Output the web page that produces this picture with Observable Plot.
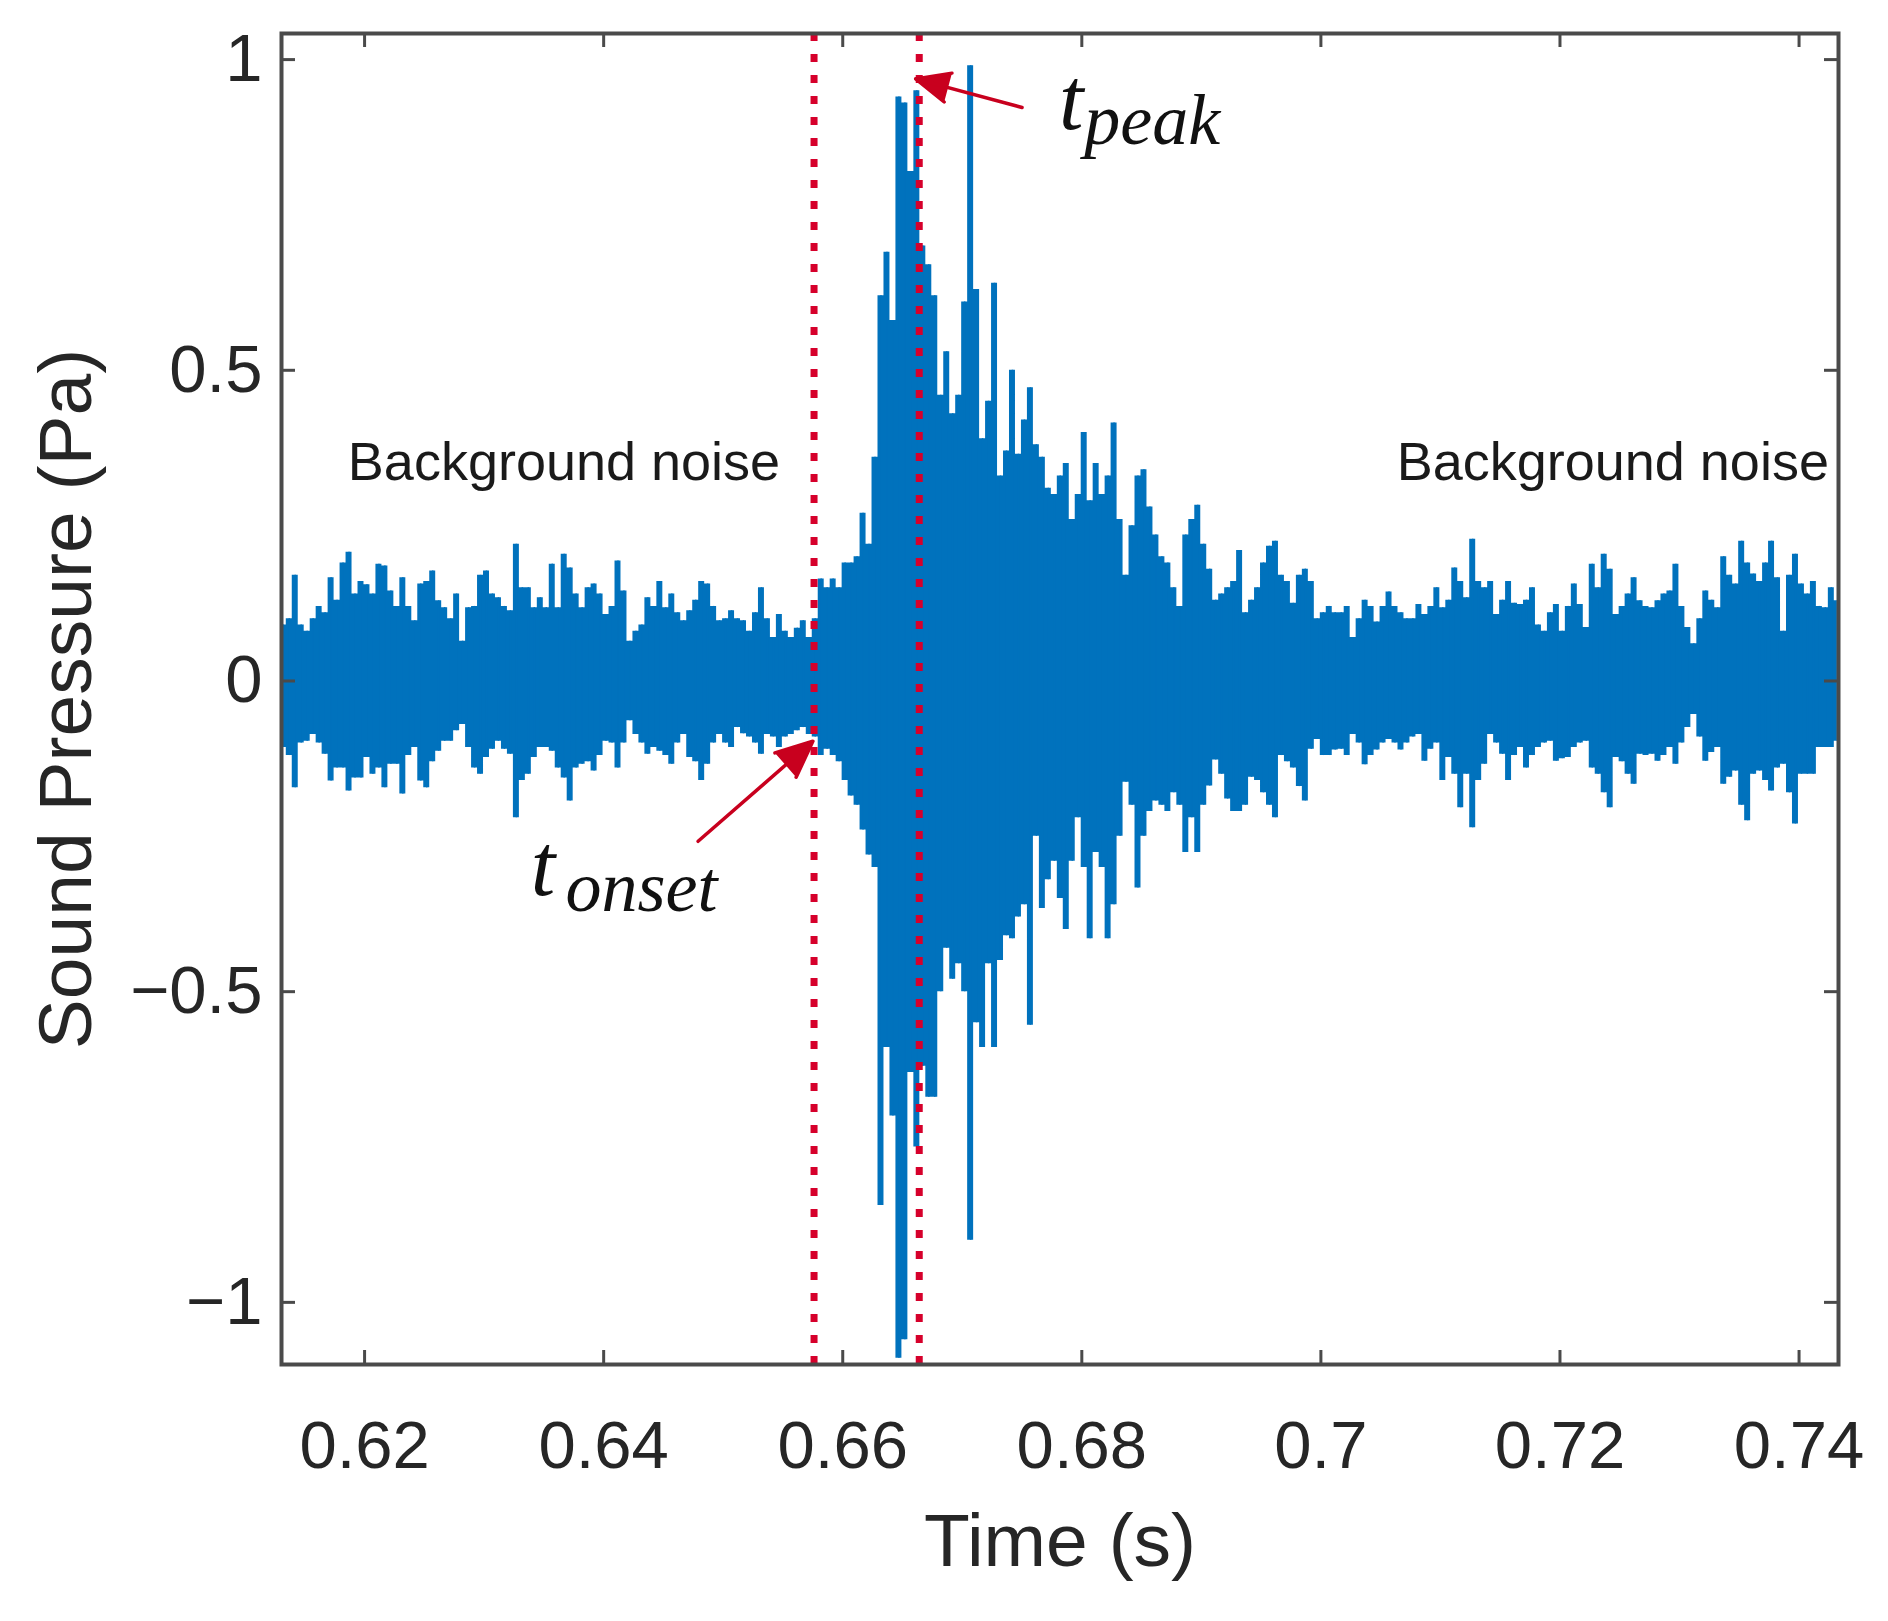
<!DOCTYPE html>
<html>
<head>
<meta charset="utf-8">
<script src="https://cdn.jsdelivr.net/npm/d3@7"></script>
<script src="https://cdn.jsdelivr.net/npm/@observablehq/plot@0.6"></script>
<style>
  html, body { margin: 0; padding: 0; background: #ffffff; }
  svg { display: block; }
</style>
</head>
<body>
<div id="chart"></div>
<script>
// ---- Sample times (ms) of the read-off envelope ----
const timeMs = [
  613.2,613.7,614.2,614.7,615.2,615.7,616.2,616.7,617.2,617.7,
  618.2,618.7,619.2,619.7,620.2,620.7,621.2,621.7,622.2,622.7,
  623.2,623.7,624.2,624.7,625.2,625.7,626.2,626.7,627.2,627.7,
  628.2,628.7,629.2,629.7,630.2,630.7,631.2,631.7,632.2,632.7,
  633.2,633.7,634.2,634.7,635.2,635.7,636.2,636.7,637.2,637.7,
  638.2,638.7,639.2,639.7,640.2,640.7,641.2,641.7,642.2,642.7,
  643.2,643.7,644.2,644.7,645.2,645.7,646.2,646.7,647.2,647.7,
  648.2,648.7,649.2,649.7,650.2,650.7,651.2,651.7,652.2,652.7,
  653.2,653.7,654.2,654.7,655.2,655.7,656.2,656.7,657.2,657.7,
  658.2,658.7,659.2,659.7,660.2,660.7,661.2,661.7,662.2,662.7,
  663.2,663.7,664.2,664.7,665.2,665.7,666.2,666.7,667.2,667.7,
  668.2,668.7,669.2,669.7,670.2,670.7,671.2,671.7,672.2,672.7,
  673.2,673.7,674.2,674.7,675.2,675.7,676.2,676.7,677.2,677.7,
  678.2,678.7,679.2,679.7,680.2,680.7,681.2,681.7,682.2,682.7,
  683.2,683.7,684.2,684.7,685.2,685.7,686.2,686.7,687.2,687.7,
  688.2,688.7,689.2,689.7,690.2,690.7,691.2,691.7,692.2,692.7,
  693.2,693.7,694.2,694.7,695.2,695.7,696.2,696.7,697.2,697.7,
  698.2,698.7,699.2,699.7,700.2,700.7,701.2,701.7,702.2,702.7,
  703.2,703.7,704.2,704.7,705.2,705.7,706.2,706.7,707.2,707.7,
  708.2,708.7,709.2,709.7,710.2,710.7,711.2,711.7,712.2,712.7,
  713.2,713.7,714.2,714.7,715.2,715.7,716.2,716.7,717.2,717.7,
  718.2,718.7,719.2,719.7,720.2,720.7,721.2,721.7,722.2,722.7,
  723.2,723.7,724.2,724.7,725.2,725.7,726.2,726.7,727.2,727.7,
  728.2,728.7,729.2,729.7,730.2,730.7,731.2,731.7,732.2,732.7,
  733.2,733.7,734.2,734.7,735.2,735.7,736.2,736.7,737.2,737.7,
  738.2,738.7,739.2,739.7,740.2,740.7,741.2,741.7,742.2,742.7,
  743.2
];

// ---- Upper envelope of the sound pressure (Pa) ----
const upper = [
  0.09,0.10,0.17,0.09,0.08,0.10,0.12,0.11,0.166,0.13,
  0.19,0.207,0.14,0.16,0.155,0.14,0.188,0.185,0.145,0.12,
  0.166,0.12,0.097,0.156,0.16,0.177,0.129,0.118,0.10,0.14,
  0.064,0.118,0.12,0.17,0.177,0.14,0.134,0.12,0.113,0.22,
  0.15,0.15,0.118,0.134,0.118,0.188,0.118,0.204,0.182,0.14,
  0.118,0.15,0.156,0.14,0.107,0.12,0.193,0.145,0.064,0.08,
  0.09,0.134,0.12,0.16,0.118,0.14,0.11,0.097,0.113,0.13,
  0.16,0.156,0.12,0.097,0.10,0.113,0.10,0.097,0.08,0.11,
  0.15,0.10,0.07,0.107,0.08,0.07,0.085,0.097,0.07,0.10,
  0.164,0.15,0.164,0.15,0.19,0.19,0.20,0.27,0.22,0.36,
  0.62,0.69,0.58,0.94,0.93,0.82,0.95,0.70,0.67,0.62,
  0.46,0.53,0.43,0.46,0.61,0.99,0.63,0.39,0.45,0.64,
  0.33,0.37,0.50,0.365,0.42,0.472,0.38,0.36,0.31,0.30,
  0.33,0.35,0.26,0.30,0.40,0.29,0.35,0.30,0.33,0.415,
  0.26,0.17,0.25,0.33,0.34,0.28,0.235,0.20,0.19,0.15,
  0.12,0.235,0.26,0.283,0.22,0.18,0.13,0.14,0.15,0.16,
  0.21,0.11,0.13,0.15,0.19,0.217,0.225,0.17,0.16,0.125,
  0.17,0.18,0.16,0.10,0.11,0.12,0.11,0.11,0.12,0.07,
  0.10,0.13,0.12,0.095,0.12,0.143,0.12,0.11,0.10,0.10,
  0.123,0.107,0.12,0.15,0.118,0.13,0.182,0.16,0.134,0.228,
  0.16,0.15,0.16,0.107,0.13,0.16,0.125,0.123,0.13,0.15,
  0.09,0.08,0.11,0.123,0.08,0.12,0.156,0.123,0.086,0.188,
  0.15,0.204,0.18,0.107,0.12,0.14,0.166,0.129,0.12,0.118,
  0.129,0.14,0.145,0.188,0.12,0.086,0.06,0.10,0.145,0.13,
  0.118,0.20,0.17,0.156,0.225,0.19,0.172,0.16,0.19,0.225,
  0.166,0.08,0.17,0.204,0.156,0.14,0.16,0.12,0.118,0.15,
  0.129
];

// ---- Lower envelope of the sound pressure (Pa) ----
const lower = [
  -0.107,-0.12,-0.172,-0.10,-0.097,-0.086,-0.10,-0.118,-0.161,-0.14,
  -0.14,-0.177,-0.156,-0.156,-0.123,-0.15,-0.14,-0.172,-0.134,-0.134,
  -0.182,-0.12,-0.107,-0.161,-0.172,-0.13,-0.113,-0.097,-0.097,-0.08,
  -0.07,-0.107,-0.14,-0.15,-0.123,-0.11,-0.097,-0.11,-0.118,-0.22,
  -0.16,-0.15,-0.123,-0.107,-0.107,-0.113,-0.14,-0.156,-0.193,-0.14,
  -0.134,-0.13,-0.145,-0.12,-0.097,-0.10,-0.14,-0.10,-0.064,-0.086,
  -0.10,-0.118,-0.107,-0.113,-0.12,-0.134,-0.10,-0.086,-0.123,-0.13,
  -0.16,-0.134,-0.10,-0.086,-0.10,-0.107,-0.075,-0.085,-0.09,-0.10,
  -0.118,-0.086,-0.09,-0.107,-0.09,-0.086,-0.08,-0.075,-0.086,-0.09,
  -0.12,-0.11,-0.12,-0.13,-0.16,-0.185,-0.20,-0.24,-0.28,-0.30,
  -0.844,-0.59,-0.70,-1.09,-1.06,-0.63,-0.75,-0.62,-0.67,-0.67,
  -0.50,-0.43,-0.48,-0.455,-0.50,-0.90,-0.55,-0.59,-0.455,-0.59,
  -0.45,-0.41,-0.415,-0.38,-0.36,-0.554,-0.25,-0.366,-0.32,-0.29,
  -0.35,-0.40,-0.29,-0.22,-0.30,-0.415,-0.276,-0.30,-0.415,-0.36,
  -0.25,-0.163,-0.20,-0.333,-0.25,-0.21,-0.193,-0.20,-0.21,-0.18,
  -0.20,-0.276,-0.22,-0.276,-0.20,-0.169,-0.127,-0.15,-0.19,-0.21,
  -0.21,-0.20,-0.155,-0.16,-0.18,-0.20,-0.22,-0.12,-0.13,-0.14,
  -0.17,-0.193,-0.11,-0.094,-0.12,-0.12,-0.111,-0.11,-0.12,-0.086,
  -0.10,-0.135,-0.12,-0.111,-0.10,-0.094,-0.10,-0.111,-0.10,-0.09,
  -0.086,-0.129,-0.11,-0.10,-0.16,-0.123,-0.15,-0.204,-0.15,-0.236,
  -0.16,-0.134,-0.086,-0.10,-0.118,-0.16,-0.12,-0.107,-0.14,-0.12,
  -0.107,-0.10,-0.097,-0.129,-0.125,-0.123,-0.107,-0.10,-0.097,-0.14,
  -0.15,-0.18,-0.204,-0.123,-0.13,-0.15,-0.166,-0.118,-0.12,-0.118,
  -0.129,-0.12,-0.107,-0.134,-0.10,-0.075,-0.054,-0.09,-0.129,-0.115,
  -0.107,-0.166,-0.155,-0.145,-0.20,-0.225,-0.15,-0.145,-0.16,-0.177,
  -0.14,-0.134,-0.18,-0.23,-0.15,-0.15,-0.15,-0.107,-0.107,-0.107,
  -0.097
];

// ---- Axes ----
const xTicks = [0.62, 0.64, 0.66, 0.68, 0.70, 0.72, 0.74];
const xTickLabels = ["0.62", "0.64", "0.66", "0.68", "0.7", "0.72", "0.74"];
const yTicks = [-1, -0.5, 0, 0.5, 1];
const yTickLabels = ["\u22121", "\u22120.5", "0", "0.5", "1"];
const xLabel = "Time (s)";
const yLabel = "Sound Pressure (Pa)";

// ---- Event markers (s) ----
const markerTimes = [0.6576, 0.6664];

// ---- Annotations (data units) ----
const noiseNotes = [
  {label: "Background noise", time: 0.6186, pressure: 0.351, anchor: "start"},
  {label: "Background noise", time: 0.7425, pressure: 0.351, anchor: "end"}
];
const arrowNotes = [
  {t1: 0.6479, p1: -0.258, t2: 0.6575, p2: -0.097},
  {t1: 0.6750, p1: 0.923, t2: 0.6661, p2: 0.969}
];
const mathLabels = [
  {main: "t", sub: "peak", time: 0.6781, pressure: 0.933, subTime: 0.6802, subPressure: 0.902},
  {main: "t", sub: "onset", time: 0.6339, pressure: -0.299, subTime: 0.6368, subPressure: -0.333}
];

const samples = timeMs.map((ms, i) => ({time: ms / 1000, hi: upper[i], lo: lower[i]}));

const W = 1888, H = 1621;
const mL = 281, mR = 50, mT = 33, mB = 257;
const plotW = W - mL - mR, plotH = H - mT - mB;
const tickLen = 14;
const axisColor = "#4a4a4a";
const textColor = "#262626";
const blue = "#0072BD";
const red = "#c8001e";

const chart = Plot.plot({
  width: W,
  height: H,
  marginLeft: mL,
  marginRight: mR,
  marginTop: mT,
  marginBottom: mB,
  x: {domain: [0.61305, 0.7433]},
  y: {domain: [-1.1, 1.042]},
  style: {fontFamily: "'Liberation Sans', Arial, sans-serif", background: "#ffffff", color: textColor},
  marks: [
    Plot.areaY(samples, {x: "time", y1: "lo", y2: "hi", fill: blue, curve: "step", clip: true}),
    Plot.ruleX(samples, {x: "time", y1: "lo", y2: "hi", stroke: blue, strokeWidth: 1.5, clip: true}),
    Plot.ruleX(markerTimes, {stroke: "#d6002b", strokeWidth: 7, strokeDasharray: "8,13"}),
    // inward ticks on all four sides
    Plot.ruleX(xTicks, {insetTop: plotH - tickLen, stroke: axisColor, strokeWidth: 3}),
    Plot.ruleX(xTicks, {insetBottom: plotH - tickLen, stroke: axisColor, strokeWidth: 3}),
    Plot.ruleY(yTicks, {insetRight: plotW - tickLen, stroke: axisColor, strokeWidth: 3}),
    Plot.ruleY(yTicks, {insetLeft: plotW - tickLen, stroke: axisColor, strokeWidth: 3}),
    Plot.frame({stroke: axisColor, strokeWidth: 4}),
    Plot.axisX({ticks: xTicks, tickSize: 0, tickPadding: 56, fontSize: 67, label: null,
      tickFormat: d => xTickLabels[xTicks.indexOf(d)]}),
    Plot.axisY({ticks: yTicks, tickSize: 0, tickPadding: 19, fontSize: 67, label: null,
      tickFormat: d => yTickLabels[yTicks.indexOf(d)]}),
    Plot.text([xLabel], {text: d => d, frameAnchor: "bottom", textAnchor: "middle", lineAnchor: "bottom",
      dy: 201, fontSize: 75, fill: textColor}),
    Plot.text([yLabel], {text: d => d, frameAnchor: "left", textAnchor: "middle", lineAnchor: "middle",
      rotate: -90, dx: -215, fontSize: 75, fill: textColor}),
    Plot.text(noiseNotes.filter(d => d.anchor === "start"), {x: "time", y: "pressure", text: "label",
      textAnchor: "start", fontSize: 54, fill: "#1a1a1a"}),
    Plot.text(noiseNotes.filter(d => d.anchor === "end"), {x: "time", y: "pressure", text: "label",
      textAnchor: "end", fontSize: 54, fill: "#1a1a1a"}),
    Plot.arrow(arrowNotes, {x1: "t1", y1: "p1", x2: "t2", y2: "p2", stroke: red, fill: red,
      strokeWidth: 3.5, headLength: 17, headAngle: 48}),
    Plot.text(mathLabels, {x: "time", y: "pressure", text: "main", textAnchor: "start",
      fontFamily: "'Liberation Serif', 'Times New Roman', serif", fontStyle: "italic", fontSize: 88, fill: "#111111"}),
    Plot.text(mathLabels, {x: "subTime", y: "subPressure", text: "sub", textAnchor: "start",
      fontFamily: "'Liberation Serif', 'Times New Roman', serif", fontStyle: "italic", fontSize: 72, fill: "#111111"})
  ]
});

document.getElementById("chart").appendChild(chart);
</script>
</body>
</html>
